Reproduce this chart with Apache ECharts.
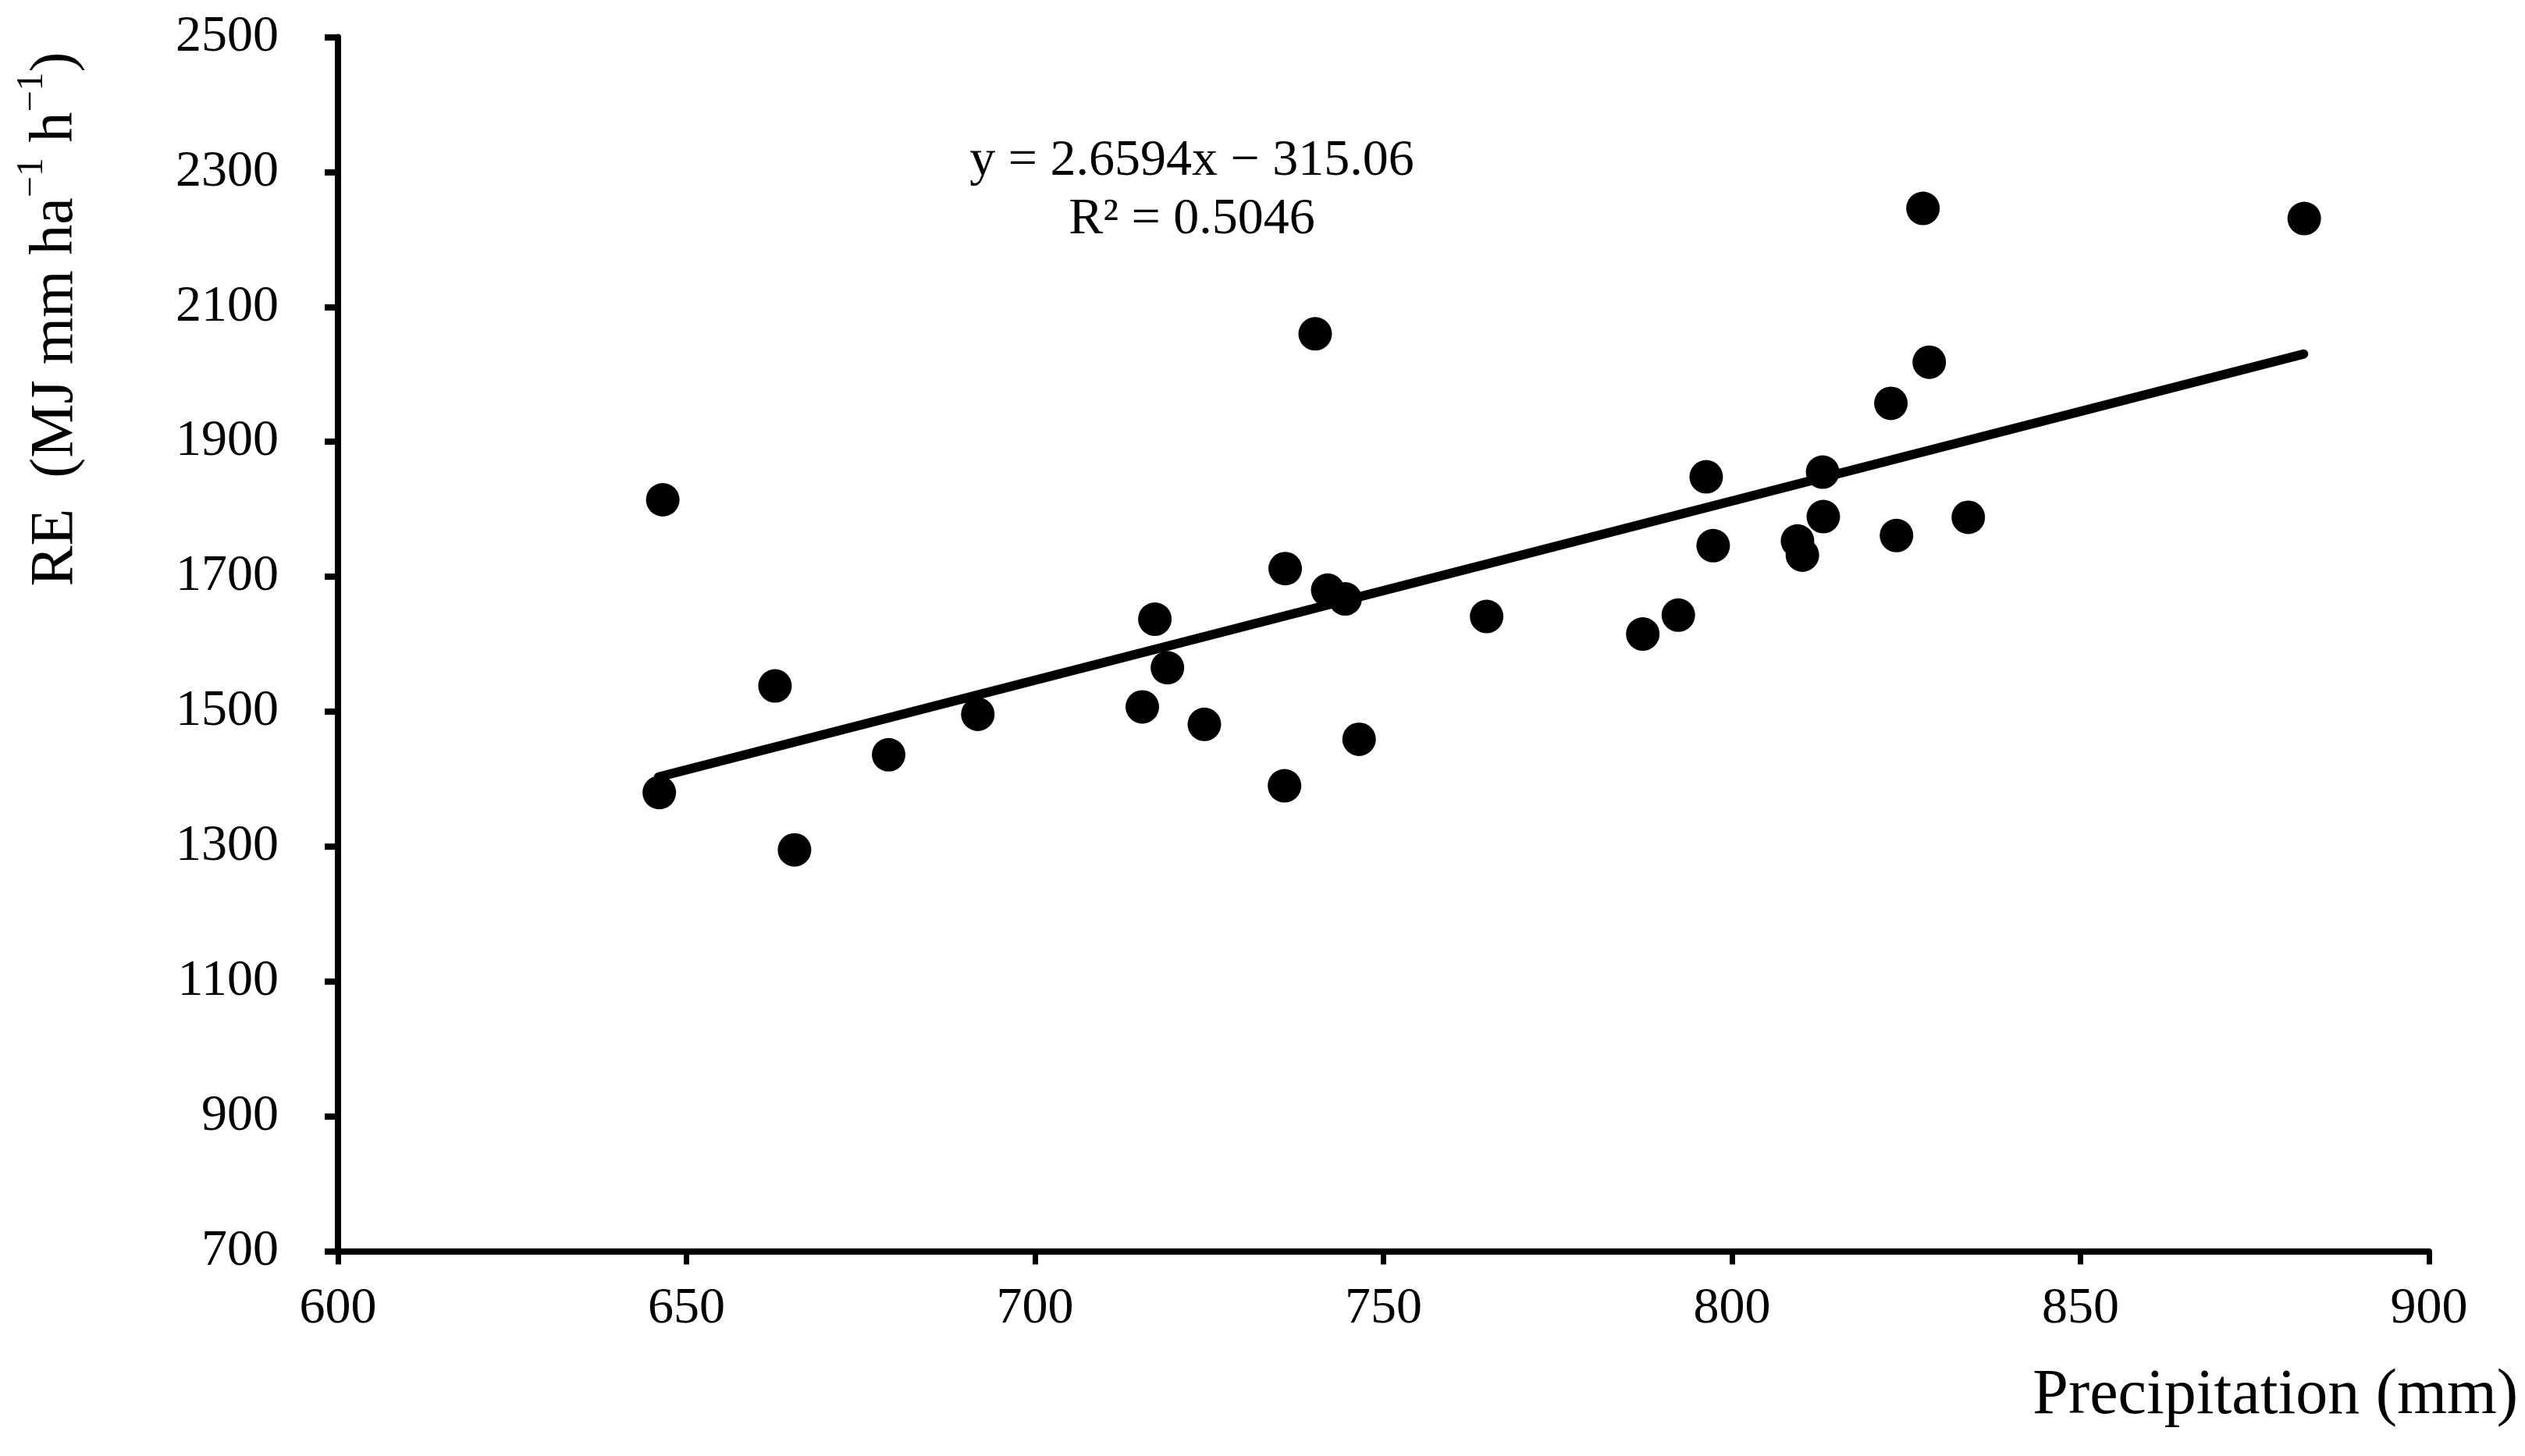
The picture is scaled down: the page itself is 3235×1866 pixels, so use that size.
<!DOCTYPE html>
<html>
<head>
<meta charset="utf-8">
<script src="https://cdn.jsdelivr.net/npm/echarts@6/dist/echarts.min.js"></script>
<style>
html,body{margin:0;padding:0;background:#fff;}
#chart{width:3235px;height:1866px;}
</style>
</head>
<body>
<div id="chart"></div>
<script>
const precipitation = [646.6, 646.1, 662.7, 665.5, 679.0, 691.8, 715.4, 717.2, 719.0, 724.3, 735.9, 735.8, 740.2, 742.0, 744.5, 746.5, 764.8, 787.2, 792.3, 796.3, 797.3, 809.4, 810.1, 813.0, 813.1, 822.8, 823.6, 827.4, 828.3, 833.9, 882.1];
const reValues = [1814, 1380, 1538, 1295, 1436, 1496, 1507, 1637, 1565, 1481, 1712, 1390, 2060, 1680, 1667, 1459, 1641, 1615, 1643, 1848, 1746, 1753, 1732, 1855, 1789, 1957, 1761, 2246, 2018, 1788, 2231];

// Trend line end points
const trendX = [646, 882];
const trendY = [1403, 2030];

// Axis settings / labels
const xTicks = [600, 650, 700, 750, 800, 850, 900];
const yTicks = [700, 900, 1100, 1300, 1500, 1700, 1900, 2100, 2300, 2500];
const equationText = 'y = 2.6594x \u2212 315.06';
const r2Text = 'R\u00B2 = 0.5046';
const xTitle = 'Precipitation (mm)';

const serif = '"Liberation Serif", "Times New Roman", serif';

const scatterData = precipitation.map((x, i) => [x, reValues[i]]);
const trendData = trendX.map((x, i) => [x, trendY[i]]);

const chart = echarts.init(document.getElementById('chart'), null, {renderer: 'canvas'});
chart.setOption({
  animation: false,
  backgroundColor: '#ffffff',
  grid: {left: 433, right: 123, top: 47.5, bottom: 262.5, containLabel: false},
  xAxis: {
    type: 'value',
    min: xTicks[0], max: xTicks[xTicks.length - 1], interval: 50,
    axisLine: {show: true, onZero: false, lineStyle: {color: '#000', width: 8}},
    axisTick: {show: true, inside: false, length: 17, lineStyle: {color: '#000', width: 7}},
    axisLabel: {show: true, margin: 41, color: '#000', fontFamily: serif, fontSize: 66, showMinLabel: true, showMaxLabel: true,
      formatter: v => String(v)},
    splitLine: {show: false}
  },
  yAxis: {
    type: 'value',
    min: yTicks[0], max: yTicks[yTicks.length - 1], interval: 200,
    axisLine: {show: true, onZero: false, lineStyle: {color: '#000', width: 8}},
    axisTick: {show: true, inside: false, length: 17, lineStyle: {color: '#000', width: 8}},
    axisLabel: {show: true, margin: 76, color: '#000', fontFamily: serif, fontSize: 66, showMinLabel: true, showMaxLabel: true,
      formatter: v => String(v)},
    splitLine: {show: false}
  },
  series: [
    {
      type: 'line',
      data: trendData,
      showSymbol: false,
      symbol: 'none',
      lineStyle: {color: '#000', width: 12, cap: 'round', opacity: 1},
      z: 2,
      silent: true
    },
    {
      type: 'scatter',
      data: scatterData,
      symbol: 'circle',
      symbolSize: 43,
      itemStyle: {color: '#000', opacity: 1},
      z: 3
    }
  ],
  graphic: [
    {
      type: 'text',
      x: 64, y: 409,
      rotation: Math.PI / 2,
      style: {
        text: '{n|RE  (MJ mm ha}{s|\u22121}{n| h}{s|\u22121}{n|)}',
        align: 'center',
        verticalAlign: 'middle',
        fill: '#000',
        rich: {
          n: {fontFamily: serif, fontSize: 78, fill: '#000', verticalAlign: 'bottom', lineHeight: 94},
          s: {fontFamily: serif, fontSize: 48, fill: '#000', verticalAlign: 'top', lineHeight: 94}
        }
      }
    },
    {
      type: 'text',
      x: 1527, y: 207,
      style: {text: equationText, align: 'center', verticalAlign: 'middle', fontFamily: serif, fontSize: 66, fill: '#000'}
    },
    {
      type: 'text',
      x: 1527, y: 282,
      style: {text: r2Text, align: 'center', verticalAlign: 'middle', fontFamily: serif, fontSize: 66, fill: '#000'}
    },
    {
      type: 'text',
      x: 3226, y: 1789,
      style: {text: xTitle, align: 'right', verticalAlign: 'middle', fontFamily: serif, fontSize: 82, fill: '#000'}
    }
  ]
});
</script>
</body>
</html>
